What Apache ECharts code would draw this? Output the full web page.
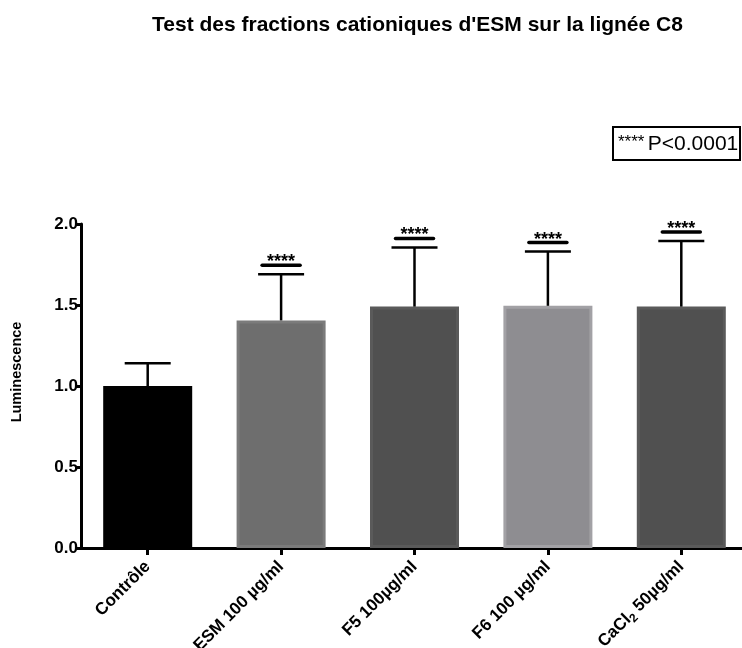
<!DOCTYPE html>
<html>
<head>
<meta charset="utf-8">
<script src="https://cdn.jsdelivr.net/npm/echarts@6/dist/echarts.min.js"></script>
<style>
  html, body { margin: 0; padding: 0; background: #fff; }
  #chart { width: 742px; height: 648px; }
</style>
</head>
<body>
<div id="chart"></div>
<script>
// Luminescence per treatment (mean and upper error bar end)
const categories = ['Contrôle', 'ESM 100 µg/ml', 'F5 100µg/ml', 'F6 100 µg/ml', 'CaCl₂ 50µg/ml'];
const meanValues = [1.00, 1.405, 1.49, 1.495, 1.49];
const errorTops = [1.14, 1.69, 1.855, 1.83, 1.895];
const significance = ['', '****', '****', '****', '****'];
const yTicks = [0, 0.5, 1.0, 1.5, 2.0];
const fillColors = ['#000000', '#6e6e6e', '#505050', '#8e8d91', '#505050'];
const edgeColors = ['#000000', '#7b7b7b', '#5a5a5a', '#a2a1a5', '#5a5a5a'];

const FONT = '"Liberation Sans", Arial, Helvetica, sans-serif';

const chart = echarts.init(document.getElementById('chart'), null, { renderer: 'canvas' });

function xLabel(v) {
  if (v.indexOf('CaCl₂') === 0) {
    return '{n|CaCl}{s|2}{n|' + v.slice(5) + '}';
  }
  return '{n|' + v + '}';
}

const option = {
  backgroundColor: '#ffffff',
  animation: false,
  title: {
    text: "Test des fractions cationiques d'ESM sur la lignée C8",
    left: 147,
    top: 10,
    textStyle: { fontFamily: FONT, fontSize: 21, fontWeight: 'bold', color: '#000' }
  },
  grid: {
    left: 81, right: -6, top: 224, bottom: 100,
    containLabel: false,
    outerBoundsMode: 'none'
  },
  xAxis: {
    type: 'category',
    data: categories,
    boundaryGap: true,
    axisLine: { show: true, lineStyle: { color: '#000', width: 3 } },
    axisTick: { show: true, alignWithLabel: true, length: 7, lineStyle: { color: '#000', width: 3 } },
    axisLabel: {
      interval: 0,
      rotate: 45,
      margin: 16,
      color: '#000',
      formatter: xLabel,
      rich: {
        n: { fontFamily: FONT, fontSize: 17, fontWeight: 'bold', color: '#000' },
        s: { fontFamily: FONT, fontSize: 12, fontWeight: 'bold', color: '#000', padding: [10, 0, 0, 0] }
      }
    },
    splitLine: { show: false }
  },
  yAxis: {
    type: 'value',
    min: yTicks[0],
    max: yTicks[yTicks.length - 1],
    interval: yTicks[1] - yTicks[0],
    name: 'Luminescence',
    nameLocation: 'middle',
    nameRotate: 90,
    nameGap: 57,
    nameTextStyle: { fontFamily: FONT, fontSize: 14.5, fontWeight: 'bold', color: '#000', padding: [0, 0, 0, 28] },
    axisLine: { show: true, lineStyle: { color: '#000', width: 3 } },
    axisTick: { show: true, inside: false, length: 6, lineStyle: { color: '#000', width: 3 } },
    axisLabel: {
      margin: 3,
      color: '#000',
      fontFamily: FONT, fontSize: 17, fontWeight: 'bold',
      formatter: v => v.toFixed(1)
    },
    splitLine: { show: false }
  },
  series: [
    {
      type: 'bar',
      barWidth: 89,
      data: meanValues.map((v, i) => ({
        value: v,
        itemStyle: { color: fillColors[i], borderColor: edgeColors[i], borderWidth: 3 }
      })),
      z: 2
    },
    {
      // upper error bars with significance marks above them
      type: 'custom',
      clip: false,
      z: 3,
      data: categories.map((c, i) => [i, meanValues[i], errorTops[i]]),
      renderItem: function (params, api) {
        const idx = api.value(0);
        const base = api.coord([idx, api.value(1)]);
        const top = api.coord([idx, api.value(2)]);
        const x = base[0];
        const children = [
          { type: 'line', shape: { x1: x, y1: base[1], x2: x, y2: top[1] },
            style: { stroke: '#000', lineWidth: 2.5 } },
          { type: 'line', shape: { x1: x - 23, y1: top[1], x2: x + 23, y2: top[1] },
            style: { stroke: '#000', lineWidth: 2.5 } }
        ];
        const sig = significance[params.dataIndex];
        if (sig) {
          const ly = top[1] - 9;
          children.push({ type: 'line', shape: { x1: x - 19, y1: ly, x2: x + 19, y2: ly },
            style: { stroke: '#000', lineWidth: 3.5, lineCap: 'round' } });
          children.push({ type: 'text', x: x, y: ly + 6,
            style: { text: sig, fontFamily: FONT, fontSize: 18, fontWeight: 'bold',
                     fill: '#000', align: 'center', verticalAlign: 'bottom' } });
        }
        return { type: 'group', children: children };
      }
    }
  ],
  graphic: [
    {
      type: 'group',
      left: 612,
      top: 126,
      children: [
        { type: 'rect', shape: { x: 0, y: 0, width: 127, height: 33 },
          style: { fill: '#fff', stroke: '#000', lineWidth: 2 } },
        { type: 'text', x: 5, y: 17,
          style: {
            text: '{st|****} {p|P<0.0001}',
            verticalAlign: 'middle',
            rich: {
              st: { fontFamily: FONT, fontSize: 17, fill: '#000', verticalAlign: 'top' },
              p: { fontFamily: FONT, fontSize: 21, fill: '#000', verticalAlign: 'bottom' }
            }
          } }
      ]
    }
  ]
};

chart.setOption(option);
</script>
</body>
</html>
